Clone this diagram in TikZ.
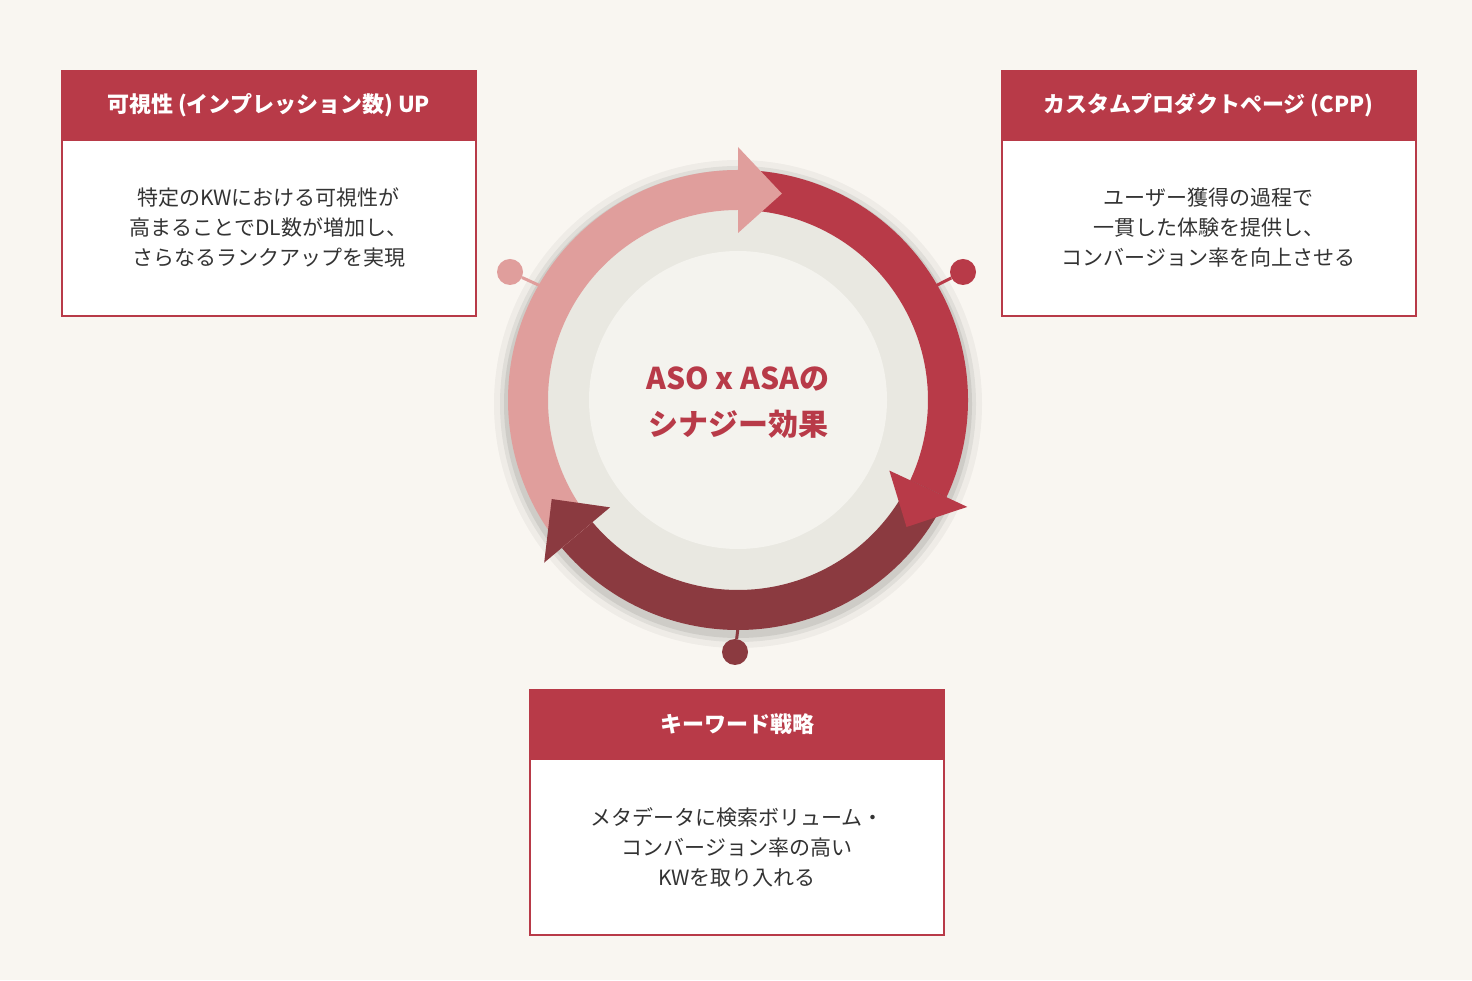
\documentclass[tikz,border=0pt]{standalone}
\usepackage{fontspec}
\setmainfont{Noto Sans CJK JP}
\begin{document}
\begin{tikzpicture}[x=1pt,y=1pt,
  hdr/.style={fill=cred,minimum width=416pt,minimum height=70pt,inner sep=0pt,text=white,font=\fontsize{22}{26}\selectfont\bfseries},
  bodybox/.style={fill=white,draw=cred,line width=2pt,minimum width=414pt,minimum height=176pt,inner sep=0pt,align=center,text=textc,font=\fontsize{21}{30}\selectfont},
  dotc/.style={circle,minimum size=26pt,inner sep=0pt}]
\definecolor{bg}{HTML}{F9F6F1}
\definecolor{cred}{HTML}{B83A48}
\definecolor{cpink}{HTML}{E09E9C}
\definecolor{cdark}{HTML}{8B3A40}
\definecolor{textc}{HTML}{333333}
\definecolor{ringg}{HTML}{E9E8E1}
\definecolor{innerg}{HTML}{F4F3EE}
\fill[bg] (0,0) rectangle (1472,980);
\useasboundingbox (0,0) rectangle (1472,980);
\begin{scope}[shift={(738,580)}]
  \foreach \r/\o in {244/0.04,238/0.06,234/0.08}{\fill[black,opacity=\o] (0,-4) circle[radius=\r pt];}
  \fill[ringg] (0,0) circle[radius=192pt];
  \fill[innerg] (0,0) circle[radius=149pt];
  \fill[cred] (90:190pt) arc[start angle=90,end angle=-25,radius=190pt] -- (-25:230pt) arc[start angle=-25,end angle=90,radius=230pt] -- cycle;
  \fill[cdark] (-25:190pt) arc[start angle=-25,end angle=-140,radius=190pt] -- (-140:230pt) arc[start angle=-140,end angle=-25,radius=230pt] -- cycle;
  \fill[cpink] (220:190pt) arc[start angle=220,end angle=90,radius=190pt] -- (90:230pt) arc[start angle=90,end angle=220,radius=230pt] -- cycle;
  \fill[cpink] (90:167pt) -- (90:253pt) -- (78:211pt) -- cycle;
  \fill[cred] (-25:167pt) -- (-25:253pt) -- (-37:211pt) -- cycle;
  \fill[cdark] (-140:167pt) -- (-140:253pt) -- (-152:211pt) -- cycle;
  \coordinate (rl) at (150:228pt);
  \coordinate (rr) at (30:228pt);
  \coordinate (rb) at (-90:228pt);
  \node[text=cred,font=\fontsize{30}{46}\selectfont\bfseries,align=center] (ctr) at (0,-3) {ASO x ASAの\\シナジー効果};
\end{scope}
\node[dotc,fill=cpink] (dl) at (510,708) {};
\node[dotc,fill=cred] (dr) at (963,708) {};
\node[dotc,fill=cdark] (db) at (735,328) {};
\draw[cpink,line width=3pt] (dl) -- (rl);
\draw[cred,line width=3pt] (dr) -- (rr);
\draw[cdark,line width=3pt] (db) -- (rb);
% boxes
\node[bodybox] (bl) at (268.5,752) {特定のKWにおける可視性が\\高まることでDL数が増加し、\\さらなるランクアップを実現};
\node[hdr] (hl) at (268.5,875) {可視性 (インプレッション数) UP};
\node[bodybox] (br) at (1208.5,752) {ユーザー獲得の過程で\\一貫した体験を提供し、\\コンバージョン率を向上させる};
\node[hdr] (hr) at (1208.5,875) {カスタムプロダクトページ (CPP)};
\node[bodybox] (bb) at (737,133) {メタデータに検索ボリューム・\\コンバージョン率の高い\\KWを取り入れる};
\node[hdr] (hb) at (737,256) {キーワード戦略};
\end{tikzpicture}
\end{document}
